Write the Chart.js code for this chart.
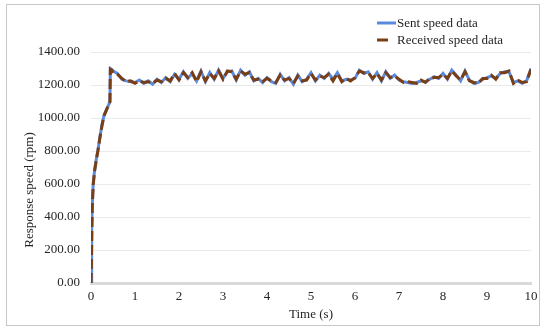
<!DOCTYPE html>
<html>
<head>
<meta charset="utf-8">
<script src="https://cdn.jsdelivr.net/npm/chart.js@4.4.1/dist/chart.umd.min.js"></script>
<style>
    html, body { margin: 0; padding: 0; background: #fff; }
    #wrap { position: relative; width: 550px; height: 332px; }
    #frame { position: absolute; left: 6px; top: 4px; width: 532px; height: 320px; border: 1px solid #c8c8c8; }
    canvas { position: absolute; left: 0; top: 0; }
</style>
</head>
<body>
<div id="wrap">
    <div id="frame"></div>
    <canvas id="speedChart" width="550" height="332"></canvas>
</div>
<script>
// data
const times = [
    0, 0.01, 0.02, 0.03, 0.05, 0.08, 0.12, 0.16, 0.2, 0.25, 0.3, 0.35, 0.4, 0.43, 0.44, 0.47,
    0.5, 0.6, 0.7, 0.8, 0.9, 1.0, 1.1, 1.2, 1.3, 1.4, 1.5, 1.6, 1.7, 1.8, 1.9,
    2.0, 2.1, 2.2, 2.3, 2.4, 2.5, 2.6, 2.7, 2.8, 2.9,
    3.0, 3.1, 3.2, 3.3, 3.4, 3.5, 3.6, 3.7, 3.8, 3.9,
    4.0, 4.1, 4.2, 4.3, 4.4, 4.5, 4.6, 4.7, 4.8, 4.9,
    5.0, 5.1, 5.2, 5.3, 5.4, 5.5, 5.6, 5.7, 5.8, 5.9,
    6.0, 6.1, 6.2, 6.3, 6.4, 6.5, 6.6, 6.7, 6.8, 6.9,
    7.0, 7.1, 7.2, 7.3, 7.4, 7.5, 7.6, 7.7, 7.8, 7.9,
    8.0, 8.1, 8.2, 8.3, 8.4, 8.5, 8.6, 8.7, 8.8, 8.9,
    9.0, 9.1, 9.2, 9.3, 9.4, 9.5, 9.6, 9.7, 9.8, 9.9, 10.0
];
const sentSpeed = [
    0, 150, 320, 480, 600, 680, 750, 810, 880, 960, 1020, 1050, 1080, 1100, 1300, 1295,
    1285, 1270, 1235, 1225, 1220, 1215, 1230, 1210, 1225, 1205, 1235, 1215, 1245, 1220, 1265,
    1235, 1280, 1240, 1270, 1225, 1285, 1220, 1275, 1235, 1290,
    1240, 1280, 1285, 1230, 1290, 1260, 1280, 1225, 1240, 1215,
    1245, 1220, 1210, 1265, 1225, 1245, 1205, 1260, 1220, 1235,
    1275, 1225, 1260, 1240, 1270, 1235, 1275, 1225, 1235, 1230,
    1240, 1290, 1270, 1280, 1235, 1275, 1225, 1280, 1240, 1260,
    1230, 1220, 1215, 1210, 1215, 1225, 1220, 1235, 1250, 1240,
    1270, 1235, 1290, 1260, 1225, 1285, 1230, 1210, 1215, 1235,
    1245, 1255, 1240, 1270, 1280, 1280, 1215, 1225, 1210, 1225, 1300
];
const receivedSpeed = [
    0, 140, 310, 470, 595, 675, 745, 805, 875, 955, 1015, 1048, 1078, 1098, 1295, 1290,
    1280, 1265, 1240, 1220, 1225, 1210, 1225, 1215, 1220, 1210, 1230, 1220, 1240, 1225, 1270,
    1230, 1275, 1245, 1275, 1220, 1280, 1225, 1270, 1240, 1285,
    1235, 1285, 1280, 1235, 1285, 1265, 1275, 1230, 1235, 1220,
    1240, 1225, 1215, 1260, 1230, 1240, 1210, 1255, 1225, 1230,
    1270, 1230, 1255, 1245, 1265, 1225, 1270, 1220, 1240, 1225,
    1245, 1285, 1275, 1275, 1240, 1270, 1230, 1275, 1245, 1255,
    1235, 1215, 1220, 1215, 1210, 1230, 1215, 1240, 1245, 1245,
    1265, 1240, 1285, 1255, 1230, 1280, 1225, 1215, 1210, 1240,
    1240, 1260, 1235, 1275, 1275, 1285, 1210, 1230, 1215, 1220, 1295
];
const xTicks = [0, 1, 2, 3, 4, 5, 6, 7, 8, 9, 10];
const yTicks = [0, 200, 400, 600, 800, 1000, 1200, 1400];

const serif = "'Liberation Serif', 'Times New Roman', serif";
const textColor = "#262626";

// legend + rotated y title drawn on the canvas
const extras = {
    id: "extras",
    afterDraw(chart) {
        const ctx = chart.ctx;
        ctx.save();
        ctx.font = "13px " + serif;
        ctx.fillStyle = textColor;
        ctx.textBaseline = "middle";
        const rows = [23, 40];
        chart.data.datasets.forEach((ds, i) => {
            const y = rows[i];
            ctx.strokeStyle = ds.borderColor;
            ctx.lineWidth = 3;
            ctx.setLineDash(i === 1 ? [11, 20] : []);
            ctx.beginPath();
            ctx.moveTo(377, y);
            ctx.lineTo(396, y);
            ctx.stroke();
            ctx.setLineDash([]);
            ctx.textAlign = "left";
            ctx.fillText(ds.label, 397, y + 1);
        });
        ctx.translate(30, 190);
        ctx.rotate(-Math.PI / 2);
        ctx.textAlign = "center";
        ctx.fillText("Response speed (rpm)", 0, 0);
        ctx.restore();
    },
};

function createChart() {
    const ctx = document.getElementById("speedChart").getContext("2d");

    new Chart(ctx, {
        type: "line",
        data: {
            datasets: [
                {
                    label: "Sent speed data",
                    data: times.map((t, i) => ({ x: t, y: sentSpeed[i] })),
                    borderColor: "#5a8ade",
                    borderWidth: 3,
                    pointRadius: 0,
                    tension: 0,
                    order: 2,
                },
                {
                    label: "Received speed data",
                    data: times.map((t, i) => ({ x: t, y: receivedSpeed[i] })),
                    borderColor: "#7a3e14",
                    borderWidth: 3,
                    borderDash: [10, 4],
                    pointRadius: 0,
                    tension: 0,
                    order: 1,
                },
            ],
        },
        options: {
            responsive: false,
            animation: false,
            layout: {
                padding: { left: 22, top: 52, right: 19, bottom: 10 },
            },
            plugins: {
                legend: { display: false },
                tooltip: { enabled: false },
            },
            scales: {
                x: {
                    type: "linear",
                    min: 0,
                    max: 10,
                    afterBuildTicks: (scale) => {
                        scale.ticks = xTicks.map((v) => ({ value: v }));
                    },
                    afterFit: (scale) => {
                        scale.height = 39;
                    },
                    ticks: {
                        color: textColor,
                        font: { family: serif, size: 13 },
                        padding: 6,
                        maxRotation: 0,
                    },
                    grid: { display: false, drawTicks: false },
                    border: { color: "#d9d9d9", width: 3 },
                    title: {
                        display: true,
                        text: "Time (s)",
                        color: textColor,
                        font: { family: serif, size: 13 },
                        padding: 0,
                    },
                },
                y: {
                    min: 0,
                    max: 1400,
                    afterBuildTicks: (scale) => {
                        scale.ticks = yTicks.map((v) => ({ value: v }));
                    },
                    afterFit: (scale) => {
                        scale.width = 69;
                    },
                    ticks: {
                        color: textColor,
                        font: { family: serif, size: 13 },
                        padding: 11,
                        callback: (v) => Number(v).toFixed(2),
                    },
                    grid: { color: "#ebebeb", lineWidth: 1, drawTicks: false },
                    border: { display: false },
                },
            },
        },
        plugins: [extras],
    });
}

createChart();
</script>
</body>
</html>
